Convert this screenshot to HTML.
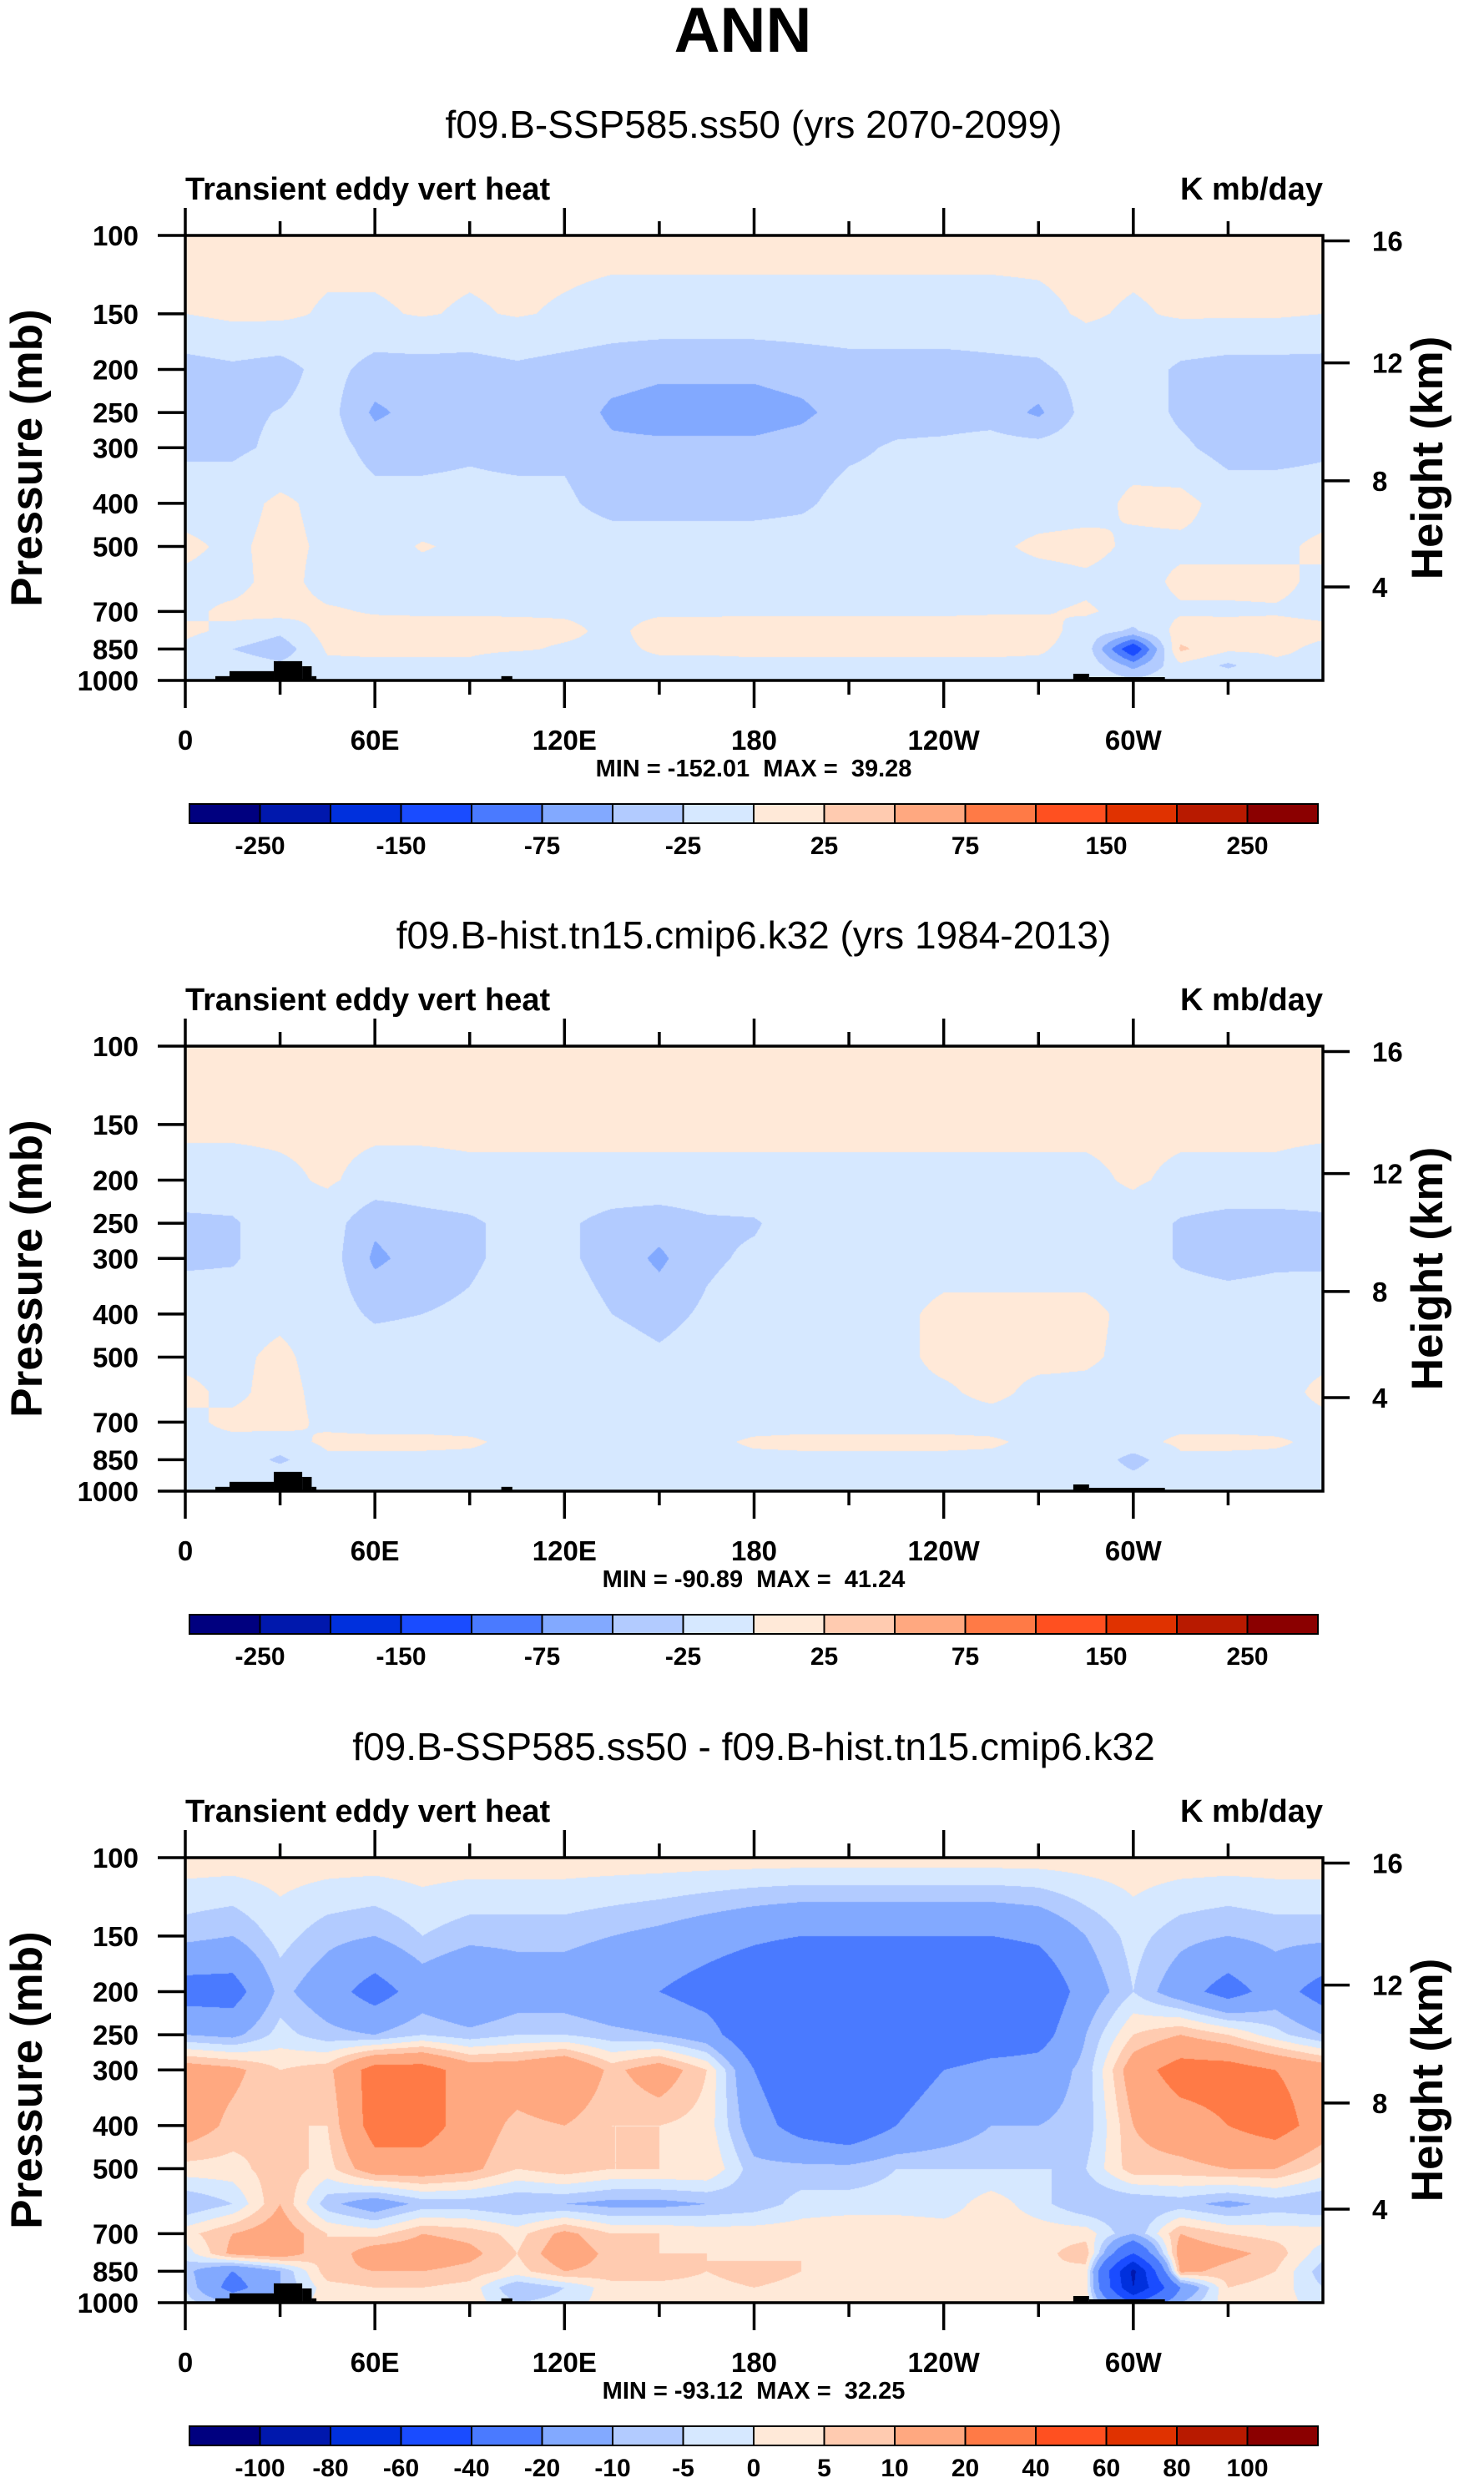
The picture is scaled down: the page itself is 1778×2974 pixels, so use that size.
<!DOCTYPE html>
<html><head><meta charset="utf-8">
<style>
html,body{margin:0;padding:0;background:#fff;}
#root{position:relative;width:1778px;height:2974px;overflow:hidden;font-family:"Liberation Sans",Arial,sans-serif;}
canvas{position:absolute;}
svg{position:absolute;left:0;top:0;}
</style></head>
<body>
<div id="root">
<canvas id="c1" width="1363" height="533" style="left:222px;top:282px"></canvas>
<canvas id="c2" width="1363" height="533" style="left:222px;top:1253px"></canvas>
<canvas id="c3" width="1363" height="533" style="left:222px;top:2225px"></canvas>
<svg id="svg" width="1778" height="2974" xmlns="http://www.w3.org/2000/svg">
<text x="890" y="62" text-anchor="middle" font-size="76" font-weight="bold" font-family="Liberation Sans, sans-serif">ANN</text>
</svg>
</div>
<script>
const lons=[0,15,30,45,60,75,90,105,120,135,150,165,180,195,210,225,240,255,270,285,300,315,330,345,360];
const levels=[100,150,200,250,300,400,500,600,700,775,850,925,1000];
const panel1Values=[
[8,8,8,8,8,8,8,8,8,8,8,8,8,8,8,8,8,8,8,8,8,8,8,8,8],
[0,5,5,-3,-3,2,-3,2,-3,-8,-8,-8,-8,-8,-8,-8,-8,-8,-6,3,-3,3,3,3,0],
[-35,-30,-35,-15,-35,-35,-35,-30,-35,-40,-45,-45,-45,-40,-35,-35,-35,-32,-30,-15,-10,-30,-35,-35,-35],
[-35,-30,-24,-15,-55,-40,-35,-30,-35,-55,-60,-60,-60,-55,-40,-35,-35,-35,-55,-15,-10,-30,-40,-40,-35],
[-30,-30,-20,-12,-35,-35,-30,-35,-30,-45,-45,-45,-45,-40,-30,-22,-20,-15,-15,-10,-10,-20,-35,-35,-30],
[-10,-10,5,-8,-15,-15,-15,-15,-20,-35,-35,-35,-35,-30,-15,-15,-15,-12,-12,-10,5,8,-10,-10,-10],
[5,-5,8,-5,-10,2,-5,-8,-10,-10,-10,-10,-10,-10,-10,-10,-8,-5,5,8,-5,-5,-5,-5,5],
[-5,-8,10,-10,-10,-10,-10,-10,-10,-10,-10,-10,-10,-10,-10,-10,-10,-10,-10,-5,-10,5,5,5,-5],
[-5,5,10,3,-2,-3,-3,-3,-3,-5,-3,-3,-3,-3,-3,-3,-3,-2,-2,3,-8,-3,-3,-2,-5],
[5,-5,-20,10,10,10,10,8,5,-5,8,8,10,10,10,10,10,10,10,-10,-30,10,8,8,5],
[-5,-25,-40,3,5,5,5,3,-3,-5,3,3,5,5,5,5,5,5,3,-10,-130,30,5,5,-5],
[-5,-10,-20,-5,-5,-5,-5,-20,-5,-5,-5,-5,-5,-5,-5,-5,-5,-5,-5,-5,-60,-5,-30,-5,-5],
[-5,-5,-5,-5,-5,-5,-5,-5,-5,-5,-5,-5,-5,-5,-5,-5,-5,-5,-5,-5,-20,-5,-5,-5,-5]
];
const panel2Values=[
[8,8,8,8,8,8,8,8,8,8,8,8,8,8,8,8,8,8,8,8,8,8,8,8,8],
[5,5,5,5,5,5,5,5,5,5,5,5,5,5,5,5,5,5,5,5,5,5,5,5,5],
[-10,-10,-5,3,-8,-8,-5,-5,-5,-5,-5,-5,-5,-5,-5,-5,-5,-5,-5,-5,3,-5,-5,-5,-10],
[-30,-28,-10,-12,-45,-35,-30,-15,-20,-35,-40,-30,-28,-10,-8,-8,-8,-8,-8,-8,-10,-28,-35,-35,-30],
[-30,-28,-10,-12,-55,-40,-30,-15,-20,-35,-55,-30,-20,-10,-8,-8,-8,-8,-8,-8,-10,-28,-35,-30,-30],
[-8,-8,-5,-10,-30,-25,-20,-10,-12,-25,-35,-20,-8,-8,-5,-5,5,5,5,5,-5,-10,-10,-10,-8],
[-5,-5,5,-10,-8,-8,-8,-10,-10,-10,-20,-10,-8,-8,-5,-5,5,5,5,3,-5,-8,-8,-5,-5],
[5,-5,8,-8,-8,-8,-8,-8,-8,-8,-8,-8,-8,-8,-8,-5,-3,5,-5,-5,-8,-8,-8,-8,5],
[-5,5,8,-5,-8,-8,-8,-8,-8,-8,-8,-8,-8,-8,-8,-8,-8,-8,-8,-8,-8,-8,-8,-8,-5],
[-5,-5,-10,5,5,5,3,-5,-5,-5,-5,-5,3,5,5,5,5,3,-5,-5,-8,5,5,3,-5],
[-5,-8,-30,-5,-5,-5,-5,-5,-5,-5,-5,-5,-5,-5,-5,-5,-5,-5,-5,-5,-35,-5,-5,-5,-5],
[-5,-10,-10,-5,-5,-5,-5,-5,-5,-5,-5,-5,-5,-5,-5,-5,-5,-5,-5,-5,-20,-5,-5,-5,-5],
[-5,-5,-5,-5,-5,-5,-5,-5,-5,-5,-5,-5,-5,-5,-5,-5,-5,-5,-5,-5,-10,-5,-5,-5,-5]
];
const panel3Values=[
[3,3,3,3,3,3,3,3,3,3,3,3,3,3,3,3,3,3,3,3,3,3,3,3,3],
[-8,-10,-3,-8,-10,-5,-8,-8,-8,-10,-12,-15,-18,-20,-20,-20,-20,-20,-18,-10,-3,-8,-10,-8,-8],
[-25,-25,-8,-15,-25,-15,-20,-15,-15,-18,-20,-25,-30,-35,-35,-35,-35,-35,-30,-15,-5,-15,-25,-15,-25],
[-10,-12,-3,-8,-10,-5,-8,-5,-5,-8,-10,-15,-30,-35,-35,-35,-35,-30,-25,-10,5,10,5,-3,-10],
[15,12,5,8,25,25,15,15,20,8,15,5,-20,-30,-30,-25,-20,-15,-15,-8,15,25,25,20,15],
[15,8,5,5,25,25,15,8,10,5,5,3,-15,-25,-30,-20,-15,-10,-10,-8,10,15,20,25,15],
[3,3,8,3,15,15,12,5,8,5,5,5,-8,-8,-8,-5,-5,-5,-5,-5,8,8,10,10,3],
[-10,-5,10,-8,-15,-8,-8,-10,-10,-12,-12,-10,-8,-3,-3,-3,-3,3,-3,-10,-10,-8,-12,-8,-10],
[3,10,15,5,3,10,8,3,12,5,5,3,3,3,5,5,3,3,3,3,-10,10,5,3,3],
[-3,12,15,5,15,15,12,5,15,8,5,5,3,5,5,3,3,3,3,8,-40,15,12,8,-3],
[-8,-20,-10,8,10,10,8,3,10,8,8,5,8,5,3,3,3,5,5,3,-85,12,8,5,-8],
[-5,-25,-10,3,5,5,3,-10,-5,3,3,3,5,3,3,3,3,3,5,3,-80,-20,5,3,-5],
[-3,-10,-5,3,3,3,3,-5,-3,3,3,3,3,3,3,3,3,3,3,3,-40,-10,3,3,-3]
];
const contours12=[-250,-200,-150,-100,-75,-50,-25,0,25,50,75,100,150,200,250];
const contours3=[-100,-80,-60,-40,-20,-10,-5,0,5,10,20,40,60,80,100];
const labels12=['-250','','-150','','-75','','-25','','25','','75','','150','','250'];
const labels3=['-100','-80','-60','-40','-20','-10','-5','0','5','10','20','40','60','80','100'];
const colors=['#00007f','#0018ad','#0030dd','#1a4cff','#4a7aff','#82a9ff','#b2cbff','#d6e8ff','#ffe9d8','#ffcbb0','#ffa880','#ff7a46','#ff5020','#e03200','#b81a00','#8b0000'];
const pressureTicks=[100,150,200,250,300,400,500,700,850,1000];
const heightTicks=[4,8,12,16];
const lonTicks=[0,60,120,180,240,300];
const lonTickLabels=['0','60E','120E','180','120W','60W'];
const topo=[[9.5,14,978],[14,28,953],[28,37,905],[37,40,929],[40,41.5,978],[100,103.5,978],[281,286,966],[286,310,983]];
const titles=['f09.B-SSP585.ss50 (yrs 2070-2099)','f09.B-hist.tn15.cmip6.k32 (yrs 1984-2013)','f09.B-SSP585.ss50 - f09.B-hist.tn15.cmip6.k32'];
const minmax=['MIN = -152.01  MAX =  39.28','MIN = -90.89  MAX =  41.24','MIN = -93.12  MAX =  32.25'];

const PL=222,PW=1363,PH=533;
function xOf(lon){return PL+lon/360*PW;}
function yOf(p,top){return top+PH*Math.log10(p/100);}
function pOfZ(z){const m=z*1000;return m<=11000?1013.25*Math.pow(1-2.25577e-5*m,5.25588):226.32*Math.exp(-(m-11000)/6341.6);}

function render(id,vals,cont){
  const cv=document.getElementById(id),ctx=cv.getContext('2d');
  const img=ctx.createImageData(PW,PH),d=img.data;
  const rgb=colors.map(c=>[parseInt(c.substr(1,2),16),parseInt(c.substr(3,2),16),parseInt(c.substr(5,2),16)]);
  const lnL=levels.map(Math.log);
  for(let y=0;y<PH;y++){
    const lp=Math.log(100*Math.pow(10,(y+0.5)/PH));
    let k=0;while(k<levels.length-2&&lp>lnL[k+1])k++;
    const fy=Math.min(1,Math.max(0,(lp-lnL[k])/(lnL[k+1]-lnL[k])));
    for(let x=0;x<PW;x++){
      const lon=(x+0.5)/PW*360;let i=Math.min(lons.length-2,Math.floor(lon/15));
      const fx=(lon-lons[i])/15;
      const v=(vals[k][i]*(1-fx)+vals[k][i+1]*fx)*(1-fy)+(vals[k+1][i]*(1-fx)+vals[k+1][i+1]*fx)*fy;
      let b=0;while(b<cont.length&&v>=cont[b])b++;
      const o=(y*PW+x)*4,c=rgb[b];d[o]=c[0];d[o+1]=c[1];d[o+2]=c[2];d[o+3]=255;
    }
  }
  ctx.putImageData(img,0,0);
}
render('c1',panel1Values,contours12);
render('c2',panel2Values,contours12);
render('c3',panel3Values,contours3);

const svg=document.getElementById('svg'),NS='http://www.w3.org/2000/svg';
function el(tag,attrs,txt){const e=document.createElementNS(NS,tag);for(const k in attrs)e.setAttribute(k,attrs[k]);if(txt!==undefined)e.textContent=txt;svg.appendChild(e);return e;}
const F='Liberation Sans, Arial, sans-serif';
const tops=[282,1253,2225];
tops.forEach((T,pi)=>{
  const off=T-282;
  const t=el('text',{x:903,y:165+off,'text-anchor':'middle','font-size':46,'font-family':F},titles[pi]);
  
  
  const l=el('text',{x:222,y:239+off,'font-size':38,'font-weight':'bold','font-family':F},'Transient eddy vert heat');
  
  
  const u=el('text',{x:1585,y:239+off,'text-anchor':'end','font-size':38,'font-weight':'bold','font-family':F},'K mb/day');
  
  
  topo.forEach(r=>{
    const b=el('rect',{x:xOf(r[0]),y:yOf(r[2],T),width:xOf(r[1])-xOf(r[0]),height:T+PH-yOf(r[2],T),fill:'#000'});
    
    
  });
  const fr=el('rect',{x:PL,y:T,width:PW,height:PH,fill:'none',stroke:'#000','stroke-width':3.5});
  
  
  pressureTicks.forEach(p=>{
    const y=yOf(p,T);
    const tk=el('line',{x1:PL-33,x2:PL,y1:y,y2:y,stroke:'#000','stroke-width':3.5});
    
    
    const tl=el('text',{x:166,y:y+12,'text-anchor':'end','font-size':33,'font-weight':'bold','font-family':F},String(p));
    
    
  });
  heightTicks.forEach(z=>{
    const y=yOf(pOfZ(z),T);
    const tk=el('line',{x1:PL+PW,x2:PL+PW+32,y1:y,y2:y,stroke:'#000','stroke-width':3.5});
    
    
    const tl=el('text',{x:1644,y:y+12,'font-size':33,'font-weight':'bold','font-family':F},String(z));
    
    
  });
  for(let lon=0;lon<=330;lon+=30){
    const major=lon%60===0,len=major?33:17,x=xOf(lon);
    const a=el('line',{x1:x,x2:x,y1:T-len,y2:T,stroke:'#000','stroke-width':3.5});
    
    
    const b=el('line',{x1:x,x2:x,y1:T+PH,y2:T+PH+len,stroke:'#000','stroke-width':3.5});
    
    
  }
  lonTicks.forEach((lon,i)=>{
    const tl=el('text',{x:xOf(lon),y:898+off,'text-anchor':'middle','font-size':33,'font-weight':'bold','font-family':F},lonTickLabels[i]);
    
    
  });
  const mm=el('text',{x:903,y:930+off,'text-anchor':'middle','font-size':29,'font-weight':'bold','font-family':F,style:'white-space:pre'},minmax[pi]);
  
  
  const yt=el('text',{x:0,y:0,transform:`translate(50,${T+PH/2}) rotate(-90)`,'text-anchor':'middle','font-size':53,'font-weight':'bold','font-family':F},'Pressure (mb)');
  
  
  const ht=el('text',{x:0,y:0,transform:`translate(1728,${T+PH/2}) rotate(-90)`,'text-anchor':'middle','font-size':53,'font-weight':'bold','font-family':F},'Height (km)');
  
  
  const cbT=963+off,cbH=23,cbL=227,bw=(1579-227)/16;
  const labs=pi===2?labels3:labels12;
  colors.forEach((c,i)=>{
    const r=el('rect',{x:cbL+i*bw,y:cbT,width:bw,height:cbH,fill:c,stroke:'#000','stroke-width':2});
    
    
  });
  labs.forEach((s,i)=>{
    if(!s)return;
    const tl=el('text',{x:cbL+(i+1)*bw,y:1023+off,'text-anchor':'middle','font-size':30,'font-weight':'bold','font-family':F},s);
    
    
  });
});
</script>
</body></html>
